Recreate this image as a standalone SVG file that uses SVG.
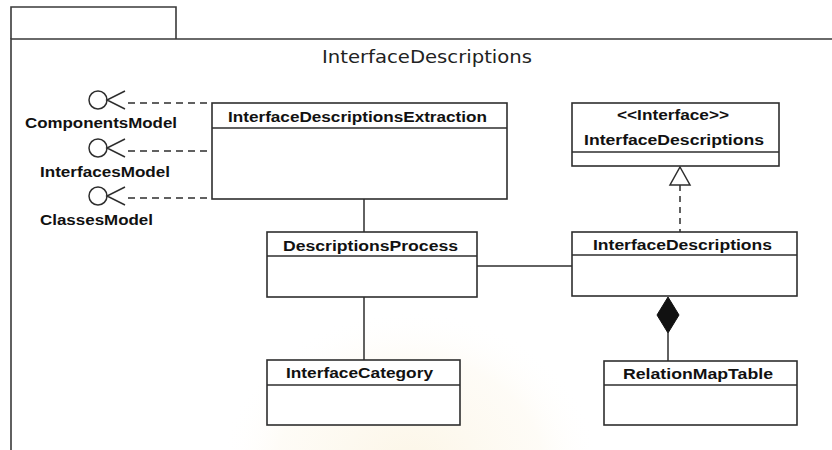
<svg xmlns="http://www.w3.org/2000/svg" width="832" height="450" viewBox="0 0 832 450">
  <style>
    .frame { fill: none; stroke: #3a3a3a; stroke-width: 1.6; }
    .box { fill: #ffffff; stroke: #2e2e2e; stroke-width: 1.6; }
    .div { stroke: #2e2e2e; stroke-width: 1.4; }
    .line { fill: none; stroke: #2e2e2e; stroke-width: 1.5; }
    .dash { fill: none; stroke: #2e2e2e; stroke-width: 1.5; stroke-dasharray: 7 5; }
    .name { font-family: "Liberation Sans", Arial, sans-serif; font-weight: bold; font-size: 14px; fill: #111; }
    .pkg { font-family: "DejaVu Sans", "Liberation Sans", sans-serif; font-size: 17px; fill: #222; }
  </style>
  <defs>
    <radialGradient id="glow" cx="0.5" cy="0.5" r="0.5">
      <stop offset="0" stop-color="#f6e4b8" stop-opacity="0.35"/>
      <stop offset="0.7" stop-color="#f9eccf" stop-opacity="0.18"/>
      <stop offset="1" stop-color="#ffffff" stop-opacity="0"/>
    </radialGradient>
  </defs>

  <rect width="832" height="450" fill="#ffffff"/>
  <!-- faint emblem in the background -->
  <ellipse cx="410" cy="470" rx="190" ry="160" fill="url(#glow)"/>

  <!-- package frame -->
  <g id="package">
    <path class="frame" d="M11 450 V39 H832"/>
    <path class="frame" d="M11 39 V7 H176 V39"/>
    <text class="pkg" x="322" y="63" textLength="210" lengthAdjust="spacingAndGlyphs">InterfaceDescriptions</text>
  </g>

  <!-- connectors -->
  <g id="connectors">
    <path class="dash" d="M128 103 H212"/>
    <path class="dash" d="M128 151 H212"/>
    <path class="dash" d="M128 198 H212"/>
    <path class="line" d="M364 199 V232"/>
    <path class="line" d="M364 297 V360"/>
    <path class="line" d="M477 266 H572"/>
    <path class="dash" d="M680 185 V232" style="stroke-dasharray: 6 5"/>
    <path d="M680 167 L690 185 L670 185 Z" fill="#ffffff" stroke="#2e2e2e" stroke-width="1.5"/>
    <path class="line" d="M668 333 V361"/>
    <path d="M668 297 L679 315 L668 333 L657 315 Z" fill="#111" stroke="#111" stroke-width="1"/>
  </g>

  <!-- required interfaces -->
  <g id="ComponentsModel">
    <circle cx="98" cy="100" r="9" fill="none" stroke="#2e2e2e" stroke-width="1.5"/>
    <path class="line" d="M125 91 L107 100 L125 109"/>
    <text class="name" x="25" y="128" textLength="152" lengthAdjust="spacingAndGlyphs">ComponentsModel</text>
  </g>
  <g id="InterfacesModel">
    <circle cx="98" cy="148" r="9" fill="none" stroke="#2e2e2e" stroke-width="1.5"/>
    <path class="line" d="M125 139 L107 148 L125 157"/>
    <text class="name" x="40" y="177" textLength="130" lengthAdjust="spacingAndGlyphs">InterfacesModel</text>
  </g>
  <g id="ClassesModel">
    <circle cx="98" cy="196" r="9" fill="none" stroke="#2e2e2e" stroke-width="1.5"/>
    <path class="line" d="M125 187 L107 196 L125 205"/>
    <text class="name" x="40" y="225" textLength="113" lengthAdjust="spacingAndGlyphs">ClassesModel</text>
  </g>

  <!-- classes -->
  <g id="InterfaceDescriptionsExtraction">
    <rect class="box" x="212" y="103" width="295" height="96"/>
    <line class="div" x1="212" y1="128" x2="507" y2="128"/>
    <text class="name" x="228" y="122" textLength="259" lengthAdjust="spacingAndGlyphs">InterfaceDescriptionsExtraction</text>
  </g>

  <g id="DescriptionsProcess">
    <rect class="box" x="267" y="232" width="210" height="65"/>
    <line class="div" x1="267" y1="256" x2="477" y2="256"/>
    <text class="name" x="283" y="251" textLength="175" lengthAdjust="spacingAndGlyphs">DescriptionsProcess</text>
  </g>

  <g id="InterfaceCategory">
    <rect class="box" x="267" y="360" width="193" height="65"/>
    <line class="div" x1="267" y1="385" x2="460" y2="385"/>
    <text class="name" x="286" y="378" textLength="147" lengthAdjust="spacingAndGlyphs">InterfaceCategory</text>
  </g>

  <g id="IInterfaceDescriptions">
    <rect class="box" x="572" y="103" width="207" height="63"/>
    <line class="div" x1="572" y1="152" x2="779" y2="152"/>
    <text class="name" x="617" y="120" textLength="112" lengthAdjust="spacingAndGlyphs">&lt;&lt;Interface&gt;&gt;</text>
    <text class="name" x="584" y="145" textLength="180" lengthAdjust="spacingAndGlyphs">InterfaceDescriptions</text>
  </g>

  <g id="InterfaceDescriptions">
    <rect class="box" x="572" y="232" width="225" height="64"/>
    <line class="div" x1="572" y1="255" x2="797" y2="255"/>
    <text class="name" x="593" y="250" textLength="179" lengthAdjust="spacingAndGlyphs">InterfaceDescriptions</text>
  </g>

  <g id="RelationMapTable">
    <rect class="box" x="604" y="361" width="193" height="64"/>
    <line class="div" x1="604" y1="385" x2="797" y2="385"/>
    <text class="name" x="623" y="379" textLength="150" lengthAdjust="spacingAndGlyphs">RelationMapTable</text>
  </g>
</svg>
